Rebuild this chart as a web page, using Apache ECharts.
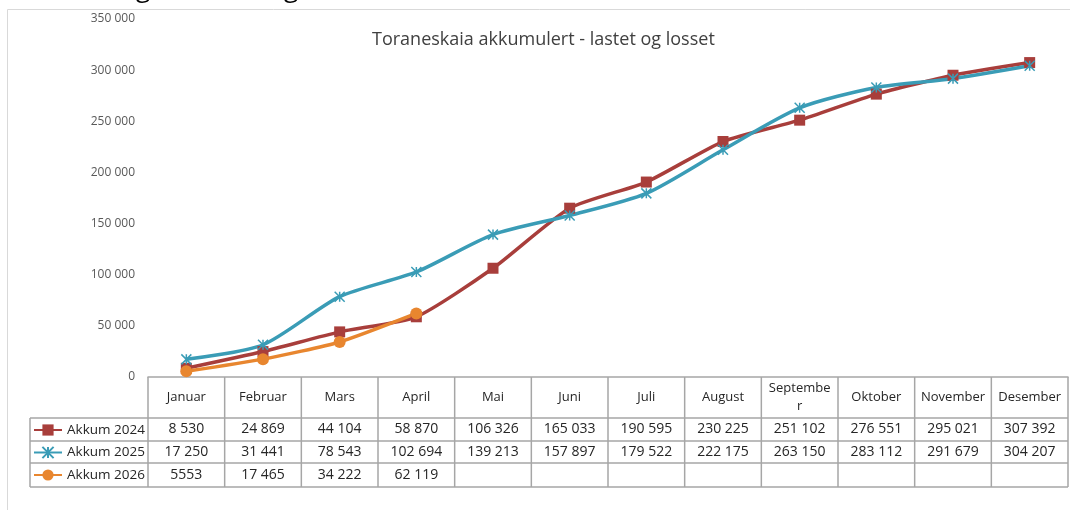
<!DOCTYPE html>
<html>
<head>
<meta charset="utf-8">
<script src="https://cdn.jsdelivr.net/npm/echarts@6/dist/echarts.min.js"></script>
<style>
  html, body { margin: 0; padding: 0; background: #fff; }
  #main { width: 1070px; height: 510px; }
</style>
</head>
<body>
<div id="main"></div>
<script>
const months = ['Januar', 'Februar', 'Mars', 'April', 'Mai', 'Juni', 'Juli', 'August', 'September', 'Oktober', 'November', 'Desember'];
const akkum2024 = [8530, 24869, 44104, 58870, 106326, 165033, 190595, 230225, 251102, 276551, 295021, 307392];
const akkum2025 = [17250, 31441, 78543, 102694, 139213, 157897, 179522, 222175, 263150, 283112, 291679, 304207];
const akkum2026 = [5553, 17465, 34222, 62119];
const yTicks = [0, 50000, 100000, 150000, 200000, 250000, 300000, 350000];

const seriesNames = ['Akkum 2024', 'Akkum 2025', 'Akkum 2026'];
const seriesData = [akkum2024, akkum2025, akkum2026];
const colors = ['#A83E3B', '#3A9CB6', '#E8862F'];

const fmt = (v) => String(v).replace(/\B(?=(\d{3})+(?!\d))/g, ' ');
// the sheet shows 5553 without a space
const cellText = (row, i) => {
  const v = seriesData[row][i];
  if (v == null) return '';
  return row === 2 && v < 10000 ? String(v) : fmt(v);
};

const FONT = '"Open Sans", "Noto Sans", sans-serif';
const GRID_LEFT = 148;
const GRID_RIGHT = 2;
const GRID_TOP = 19;
const AXIS_Y = 377;
const rowLines = [377, 418, 441, 463, 487];

const chart = echarts.init(document.getElementById('main'));

const option = {
  animation: false,
  color: colors,
  title: {
    text: 'Toraneskaia akkumulert - lastet og losset',
    left: 367,
    top: 26,
    textStyle: { fontFamily: FONT, fontSize: 18, fontWeight: 'normal', color: '#404040' },
  },
  legend: {
    orient: 'vertical',
    left: 33,
    top: 423,
    padding: 0,
    itemWidth: 28,
    itemHeight: 14,
    itemGap: 8.5,
    textStyle: { fontFamily: FONT, fontSize: 13.5, color: '#262626' },
    data: seriesNames,
  },
  grid: {
    left: GRID_LEFT,
    right: GRID_RIGHT,
    top: GRID_TOP,
    bottom: 510 - AXIS_Y,
    containLabel: false,
  },
  xAxis: {
    type: 'category',
    data: months,
    boundaryGap: true,
    axisLine: { lineStyle: { color: '#a6a6a6', width: 1.5 } },
    axisTick: { show: false },
    axisLabel: {
      margin: 20,
      verticalAlign: 'middle',
      lineHeight: 18,
      fontFamily: FONT,
      fontSize: 13,
      color: '#262626',
      interval: 0,
      formatter: (v) => (v === 'September' ? 'Septembe\nr' : v),
    },
  },
  yAxis: {
    type: 'value',
    min: yTicks[0],
    max: yTicks[yTicks.length - 1],
    interval: 50000,
    splitLine: { show: false },
    axisLine: { show: false },
    axisTick: { show: false },
    axisLabel: {
      margin: 13,
      fontFamily: FONT,
      fontSize: 12,
      color: '#595959',
      formatter: (v) => fmt(v),
    },
  },
  series: [
    {
      name: seriesNames[0],
      type: 'line',
      data: akkum2024,
      smooth: 0.2,
      symbol: 'rect',
      symbolSize: 11,
      lineStyle: { width: 3.5, color: colors[0] },
      itemStyle: { color: colors[0] },
    },
    {
      name: seriesNames[1],
      type: 'line',
      data: akkum2025,
      smooth: 0.25,
      symbol: 'path://M0,0L10,10M10,0L0,10M5,0L5,10',
      symbolSize: 10,
      lineStyle: { width: 3.5, color: colors[1] },
      itemStyle: { color: colors[1], borderColor: colors[1], borderWidth: 1.5 },
    },
    {
      name: seriesNames[2],
      type: 'line',
      data: akkum2026,
      smooth: 0.2,
      symbol: 'circle',
      symbolSize: 12,
      lineStyle: { width: 3.5, color: colors[2] },
      itemStyle: { color: colors[2] },
    },
  ],
};

chart.setOption(option);

// data table under the plot, columns taken from the category axis
const x0 = chart.convertToPixel({ xAxisIndex: 0 }, 0);
const x1 = chart.convertToPixel({ xAxisIndex: 0 }, 1);
const colW = x1 - x0;
const graphics = [];
const lineStyle = { stroke: '#a6a6a6', lineWidth: 1.5 };

// outer frame of the chart object
graphics.push({
  type: 'rect',
  shape: { x: 7.5, y: 9.5, width: 1200, height: 700 },
  style: { fill: 'none', stroke: '#d9d9d9', lineWidth: 1 },
  silent: true,
});

months.forEach((m, i) => {
  const cx = chart.convertToPixel({ xAxisIndex: 0 }, i);
  graphics.push({
    type: 'line',
    shape: { x1: cx - colW / 2, y1: rowLines[0], x2: cx - colW / 2, y2: rowLines[4] },
    style: lineStyle,
  });
  for (let r = 0; r < 3; r++) {
    graphics.push({
      type: 'text',
      x: cx,
      y: (rowLines[r + 1] + rowLines[r + 2]) / 2,
      style: {
        text: cellText(r, i),
        align: 'center',
        verticalAlign: 'middle',
        font: '14px ' + FONT,
        fill: '#262626',
      },
    });
  }
});
const lastX = chart.convertToPixel({ xAxisIndex: 0 }, months.length - 1) + colW / 2;
graphics.push({
  type: 'line',
  shape: { x1: lastX, y1: rowLines[0], x2: lastX, y2: rowLines[4] },
  style: lineStyle,
});
graphics.push({
  type: 'line',
  shape: { x1: 30, y1: rowLines[1], x2: 30, y2: rowLines[4] },
  style: lineStyle,
});
rowLines.slice(1).forEach((y) => {
  graphics.push({
    type: 'line',
    shape: { x1: 30, y1: y, x2: lastX, y2: y },
    style: lineStyle,
  });
});

// tails of a heading cut off above the frame
[143, 291].forEach((gx) => {
  graphics.push({
    type: 'text',
    x: gx,
    y: -10,
    style: { text: 'g', font: '26px ' + FONT, fill: '#000', align: 'center', verticalAlign: 'middle' },
  });
});

chart.setOption({ graphic: graphics });
</script>
</body>
</html>
